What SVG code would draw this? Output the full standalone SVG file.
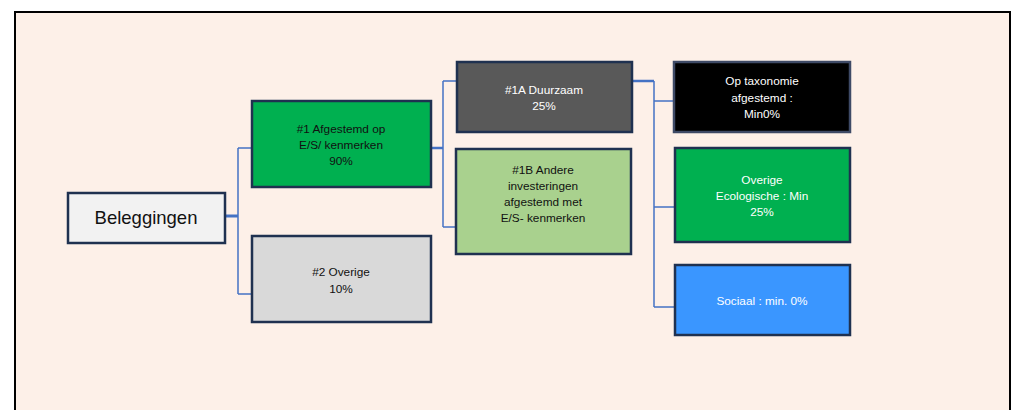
<svg xmlns="http://www.w3.org/2000/svg" width="1016" height="410" viewBox="0 0 1016 410">
<style>
.box{stroke:#1F3150;stroke-width:2.5}
.t{font-family:"Liberation Sans",Arial,sans-serif;font-size:11.8px;text-anchor:middle}
.w{fill:#FFFFFF}
.k{fill:#111111}
.c{fill:none;stroke:#4472C4;stroke-width:1.5}
</style>
<rect x="0" y="0" width="1016" height="410" fill="#FFFFFF"/>
<rect x="15" y="12" width="995" height="402" fill="#FDF0E8" stroke="#000000" stroke-width="2"/>
<g id="connectors">
<path class="c" d="M225,216 H238 M238,148 V294 M238,148 H252 M238,294 H252"/>
<path d="M225,216 H238" fill="none" stroke="#4472C4" stroke-width="3"/>
<path class="c" d="M431,148 H443 M443,81 V227 M443,81 H457 M443,227 H456"/>
<path d="M431,148 H443" fill="none" stroke="#4472C4" stroke-width="2.5"/>
<path class="c" d="M632,81 H654 M654,81 V307 M654,101 H674 M654,207 H674 M654,307 H674"/>
<path d="M632,81 H654" fill="none" stroke="#4472C4" stroke-width="2.5"/>
</g>
<g id="beleggingen">
<rect class="box" x="68" y="193" width="157" height="50" fill="#F2F2F2"/>
<text x="146" y="224" font-family="Liberation Sans,Arial,sans-serif" font-size="18.5" text-anchor="middle" fill="#111111">Beleggingen</text>
</g>
<g id="n1">
<rect class="box" x="252" y="101" width="179" height="86" fill="#00B050"/>
<text class="t k" x="341" y="133">#1 Afgestemd op</text>
<text class="t k" x="341" y="149">E/S/ kenmerken</text>
<text class="t k" x="341" y="165">90%</text>
</g>
<g id="n2">
<rect class="box" x="252" y="236" width="179" height="86" fill="#D9D9D9"/>
<text class="t k" x="341" y="276">#2 Overige</text>
<text class="t k" x="341" y="293">10%</text>
</g>
<g id="n1a">
<rect class="box" x="457" y="62" width="175" height="70" fill="#595959"/>
<text class="t w" x="544" y="94">#1A Duurzaam</text>
<text class="t w" x="544" y="110">25%</text>
</g>
<g id="n1b">
<rect class="box" x="456" y="149" width="175" height="105" fill="#A9D18E"/>
<text class="t k" x="543" y="174">#1B Andere</text>
<text class="t k" x="543" y="190">investeringen</text>
<text class="t k" x="543" y="206">afgestemd met</text>
<text class="t k" x="543" y="222">E/S- kenmerken</text>
</g>
<g id="taxonomie">
<rect x="674" y="62" width="176" height="70" fill="#000000" stroke="#3E4A66" stroke-width="2.5"/>
<text class="t w" x="762" y="85">Op taxonomie</text>
<text class="t w" x="762" y="102">afgestemd :</text>
<text class="t w" x="762" y="118">Min0%</text>
</g>
<g id="ecologisch">
<rect class="box" x="675" y="148" width="175" height="94" fill="#00B050"/>
<text class="t w" x="762" y="184">Overige</text>
<text class="t w" x="762" y="200">Ecologische : Min</text>
<text class="t w" x="762" y="216">25%</text>
</g>
<g id="sociaal">
<rect class="box" x="675" y="265" width="175" height="70" fill="#3A96FF"/>
<text class="t w" x="762" y="305">Sociaal : min. 0%</text>
</g>
</svg>
